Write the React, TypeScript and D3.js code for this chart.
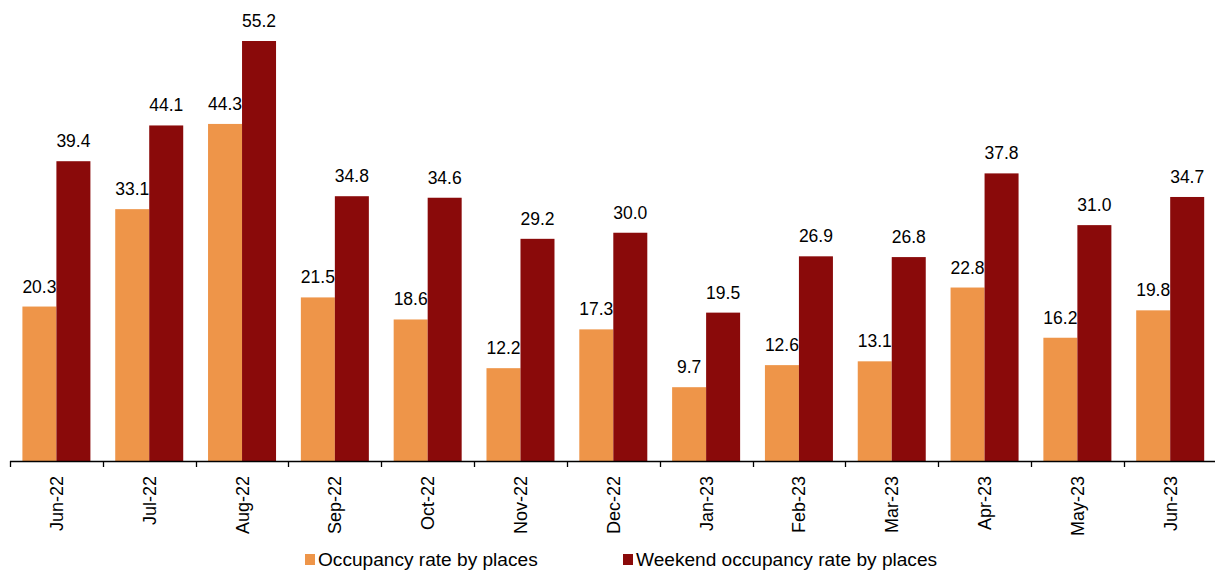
import React, { useEffect, useRef } from 'react';
import * as d3 from 'd3';

const months = ['Jun-22', 'Jul-22', 'Aug-22', 'Sep-22', 'Oct-22', 'Nov-22', 'Dec-22', 'Jan-23', 'Feb-23', 'Mar-23', 'Apr-23', 'May-23', 'Jun-23'];
const occupancy = [20.3, 33.1, 44.3, 21.5, 18.6, 12.2, 17.3, 9.7, 12.6, 13.1, 22.8, 16.2, 19.8];
const weekend = [39.4, 44.1, 55.2, 34.8, 34.6, 29.2, 30.0, 19.5, 26.9, 26.8, 37.8, 31.0, 34.7];
const seriesNames = ['Occupancy rate by places', 'Weekend occupancy rate by places'];
const colors = ['#EE9549', '#8A0A0A'];

const App = () => {
    const ref = useRef(null);

    useEffect(() => {
        const svg = d3.select(ref.current);
        svg.selectAll('*').remove();

        const axisLeft = 10;
        const axisRight = 1216.6;
        const baseline = 461;

        const x = d3.scaleBand()
            .domain(months)
            .range([axisLeft, axisRight])
            .paddingInner(0)
            .paddingOuter(0);

        const y = d3.scaleLinear()
            .domain([0, 55.2])
            .range([baseline, 41]);

        const barW = 34;
        const font = 'Arial, "Liberation Sans", sans-serif';

        const series = [occupancy, weekend];

        series.forEach((vals, si) => {
            const g = svg.append('g');
            const xPos = (m) => x(m) + x.bandwidth() / 2 - barW + si * barW;
            g.selectAll('rect')
                .data(months)
                .join('rect')
                .attr('x', d => xPos(d))
                .attr('y', (d, i) => y(vals[i]))
                .attr('width', barW)
                .attr('height', (d, i) => baseline - y(vals[i]))
                .attr('fill', colors[si]);
            g.selectAll('text')
                .data(months)
                .join('text')
                .attr('x', d => xPos(d) + barW / 2)
                .attr('y', (d, i) => y(vals[i]) - 14)
                .attr('text-anchor', 'middle')
                .attr('font-family', font)
                .attr('font-size', 17.5)
                .attr('fill', '#000')
                .text((d, i) => vals[i].toFixed(1));
        });

        // x axis line + ticks at category boundaries
        const axis = svg.append('g');
        axis.append('line')
            .attr('x1', axisLeft).attr('x2', axisRight)
            .attr('y1', baseline + 0.5).attr('y2', baseline + 0.5)
            .attr('stroke', '#000').attr('stroke-width', 1.3);
        const bounds = months.map(m => x(m)).concat([axisRight]);
        axis.selectAll('line.tick')
            .data(bounds)
            .join('line')
            .attr('class', 'tick')
            .attr('x1', d => Math.round(d) + 0.5).attr('x2', d => Math.round(d) + 0.5)
            .attr('y1', baseline).attr('y2', baseline + 6)
            .attr('stroke', '#000').attr('stroke-width', 1.3);
        axis.selectAll('text')
            .data(months)
            .join('text')
            .attr('transform', d => `translate(${x(d) + x.bandwidth() / 2 + 6.5},${baseline + 15}) rotate(-90)`)
            .attr('text-anchor', 'end')
            .attr('font-family', font)
            .attr('font-size', 18)
            .attr('fill', '#000')
            .text(d => d);

        // legend
        const legendX = [305, 623];
        const legend = svg.append('g');
        seriesNames.forEach((name, i) => {
            legend.append('rect')
                .attr('x', legendX[i]).attr('y', 554)
                .attr('width', 10).attr('height', 11)
                .attr('fill', colors[i]);
            legend.append('text')
                .attr('x', legendX[i] + 13).attr('y', 566)
                .attr('font-family', font)
                .attr('font-size', 19.1)
                .attr('fill', '#000')
                .text(name);
        });
    }, []);

    return (
        <svg ref={ref} width={1215} height={571} style={{ position: 'absolute', left: 0, top: 0, background: '#fff' }} />
    );
};

export default App;
